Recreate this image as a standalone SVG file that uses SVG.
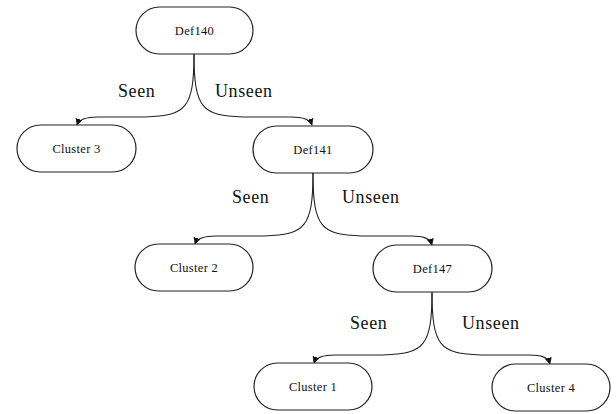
<svg xmlns="http://www.w3.org/2000/svg" width="616" height="414" viewBox="0 0 616 414">
<style>
.node rect{fill:#fff;stroke:#222;stroke-width:1.2}
.node text{font-family:"Liberation Serif",serif;font-size:12.5px;fill:#111;text-anchor:middle;letter-spacing:0.3px}
.edge{fill:none;stroke:#222;stroke-width:1.1;marker-end:url(#ah)}
.lbl{font-family:"Liberation Serif",serif;font-size:18px;fill:#111;letter-spacing:0.6px}
</style>
<defs>
<marker id="ah" viewBox="0 0 10 10" refX="9" refY="5" markerWidth="7" markerHeight="7" orient="auto" markerUnits="userSpaceOnUse">
<path d="M0,0 L10,5 L0,10 z" fill="#111"/>
</marker>
</defs>
<rect width="616" height="414" fill="#fff"/>
<g id="connectors">
<path class="edge" d="M194,54 C194,108 186,116 145,117 L98,117 C86,117 79,119 77,125"/>
<path class="edge" d="M194,54 C194,108 202,116 243,117 L291,117 C303,117 310,119 312,125"/>
<path class="edge" d="M313,173 C313,227 305,235 264,236 L216,236 C204,236 197,238 195,244"/>
<path class="edge" d="M313,173 C313,227 321,235 362,236 L411,236 C423,236 430,238 432,245"/>
<path class="edge" d="M432,292 C432,346 424,354 383,355 L335,355 C323,355 316,357 314,363"/>
<path class="edge" d="M432,292 C432,346 440,354 481,355 L529,355 C541,355 548,357 550,364"/>
</g>
<g id="labels">
<text class="lbl" x="118" y="97">Seen</text>
<text class="lbl" x="215" y="97">Unseen</text>
<text class="lbl" x="232" y="203">Seen</text>
<text class="lbl" x="342" y="203">Unseen</text>
<text class="lbl" x="350" y="329">Seen</text>
<text class="lbl" x="462" y="329">Unseen</text>
</g>
<g id="def140" class="node"><rect x="136" y="7" width="117" height="47" rx="23.5"/><text x="194.5" y="35">Def140</text></g>
<g id="cluster3" class="node"><rect x="17" y="125" width="119" height="47" rx="23.5"/><text x="76.5" y="153">Cluster 3</text></g>
<g id="def141" class="node"><rect x="253" y="126" width="120" height="47" rx="23.5"/><text x="313" y="154">Def141</text></g>
<g id="cluster2" class="node"><rect x="135" y="244" width="118" height="47" rx="23.5"/><text x="194" y="272">Cluster 2</text></g>
<g id="def147" class="node"><rect x="373" y="245" width="119" height="47" rx="23.5"/><text x="432.5" y="273">Def147</text></g>
<g id="cluster1" class="node"><rect x="254" y="363" width="118" height="47" rx="23.5"/><text x="313" y="391">Cluster 1</text></g>
<g id="cluster4" class="node"><rect x="492" y="364" width="118" height="47" rx="23.5"/><text x="551" y="392">Cluster 4</text></g>
</svg>
